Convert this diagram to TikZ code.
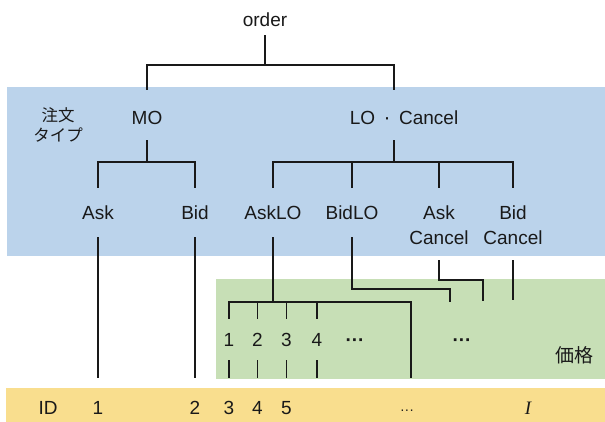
\documentclass[tikz,border=0pt]{standalone}
\usepackage{fontspec}
\setmainfont{Liberation Sans}
\newfontfamily\cjkfont{Noto Sans CJK JP}
\newfontfamily\timesfont{Liberation Serif}
\definecolor{bandblue}{RGB}{187,211,235}
\definecolor{bandgreen}{RGB}{199,223,182}
\definecolor{bandyellow}{RGB}{249,222,142}
\definecolor{inkc}{RGB}{25,25,25}
\begin{document}
\begin{tikzpicture}[x=1pt,y=-1pt,
  lbl/.style={font=\fontsize{19}{22}\selectfont, text=inkc, inner sep=0pt, anchor=base},
  rowa/.style={lbl, text height=34.8pt, text depth=15.2pt},
  rowb/.style={lbl, text height=31.8pt, text depth=17.2pt},
  rowc/.style={lbl, text height=13.6pt, text depth=15.2pt},
  numrow/.style={lbl, text height=27.8pt, text depth=13.2pt},
  idrow/.style={lbl, text height=36.8pt, text depth=0pt},
  jplbl/.style={text=inkc, inner sep=0pt, align=center},
  link/.style={line width=1.7pt, draw=inkc}
]
\useasboundingbox (0,0) rectangle (605,422);
% background bands
\fill[bandblue] (7,87) rectangle (605,256);
\fill[bandgreen] (216,279) rectangle (605,379);
\fill[bandyellow] (6,388) rectangle (605,422);

% labels
\node[lbl, text height=13.6pt, text depth=8.2pt] (order) at (265,26.8) {order};
\node[rowa] (MO) at (147,124.8) {MO};
\node[rowa] (LOC) at (404,124.8) {LO\hspace{8.5pt}{\fontsize{21}{22}\selectfont·}\hspace{8.5pt}Cancel};
\node[jplbl, font=\cjkfont\fontsize{16.5}{19.5}\selectfont] (otype) at (58,125) {注文\\タイプ};

\node[rowb] (Ask) at (98,219.8) {Ask};
\node[rowb] (Bid) at (195,219.8) {Bid};
\node[rowb] (AskLO) at (273,219.8) {AskLO};
\node[rowb] (BidLO) at (352,219.8) {BidLO};
\node[rowb] (askCa) at (439,219.8) {Ask};
\node[rowb] (bidCa) at (513,219.8) {Bid};
\node[rowc] (askCb) at (439,244.8) {Cancel};
\node[rowc] (bidCb) at (513,244.8) {Cancel};

\node[numrow] (p1) at (229,346.8) {1};
\node[numrow] (p2) at (257.5,346.8) {2};
\node[numrow] (p3) at (286.5,346.8) {3};
\node[numrow] (p4) at (317,346.8) {4};
\node[lbl, font=\bfseries\fontsize{19}{22}\selectfont] (pdotsa) at (355,346.8) {···};
\node[lbl, font=\bfseries\fontsize{19}{22}\selectfont] (pdotsb) at (462,346.8) {···};
\node[jplbl, font=\cjkfont\fontsize{19}{19}\selectfont] (price) at (574,355) {価格};

\node[idrow] (idlabel) at (48,414.8) {ID};
\node[idrow] (id1) at (98,414.8) {1};
\node[idrow] (id2) at (195,414.8) {2};
\node[idrow] (id3) at (229,414.8) {3};
\node[idrow] (id4) at (257.5,414.8) {4};
\node[idrow] (id5) at (286.5,414.8) {5};
\node[idrow, font=\fontsize{14}{16}\selectfont] (iddots) at (407,414.8) {···};
\node[idrow, font=\timesfont\itshape\fontsize{19}{22}\selectfont] (idI) at (528,414.8) {I};

% junctions
\coordinate (j0) at (265,65);
\coordinate (j1) at (394,162);
\coordinate (j2) at (147,162);
\coordinate (pR) at (411,302);
\coordinate (p4end) at (317,378);
\coordinate (bidK) at (450,289);
\coordinate (bidEnd) at (450,302);
\coordinate (acK) at (483,280);
\coordinate (acEnd) at (483,301);
\coordinate (bcEnd) at (513,300);

% tree
\draw[link] (order.south) -- (j0);
\draw[link] (MO.north) |- (j0) -| (LOC.north -| j1);
\draw[link] (MO.south) -- (j2);
\draw[link] (Ask.north) |- (j2) -| (Bid.north);
\draw[link] (LOC.south -| j1) -- (j1);
\draw[link] (AskLO.north) |- (j1) -| (bidCa.north);
\draw[link] (BidLO.north) -- (BidLO.north |- j1);
\draw[link] (askCa.north) -- (askCa.north |- j1);

% down to IDs
\draw[link] (Ask.south) -- (id1.north);
\draw[link] (Bid.south) -- (id2.north);
\draw[link] (AskLO.south) -- (AskLO.south |- pR);
\draw[link] (p1.north) |- (pR) -- (pR |- iddots.north);
\draw[link] (p2.north) -- (p2.north |- pR);
\draw[link] (p3.north) -- (p3.north |- pR);
\draw[link] (p4.north) -- (p4.north |- pR);
\draw[link] (p1.south) -- (id3.north);
\draw[link] (p2.south) -- (id4.north);
\draw[link] (p3.south) -- (id5.north);
\draw[link] (p4.south) -- (p4end);

% cancel / BidLO paths
\draw[link] (BidLO.south) |- (bidK) -- (bidEnd);
\draw[link] (askCb.south) |- (acK) -- (acEnd);
\draw[link] (bidCb.south) -- (bcEnd);
\end{tikzpicture}
\end{document}
